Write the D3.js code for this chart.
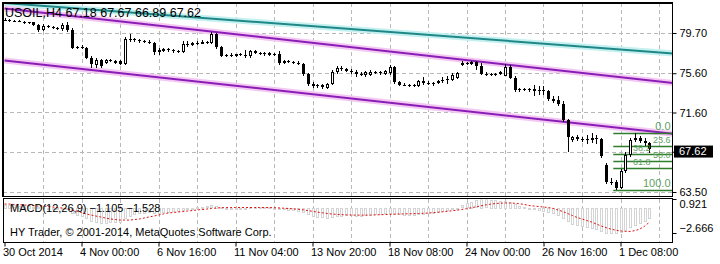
<!DOCTYPE html>
<meta charset="utf-8">
<style>
body { margin: 0; background: #fff; }
svg text { font-family: "Liberation Sans", Arial, sans-serif; }
.axis path.domain { display: none; }
.axis line { stroke: #000; }
.axis text { font-size: 11px; fill: #000; }
</style>
<svg id="chart" width="720" height="264"></svg>
<script src="https://d3js.org/d3.v7.min.js"></script>
<script>

// ---- data (H4 bars) ----
var symbol = "USOIL,H4";
var lastOHLC = [67.18, 67.67, 66.89, 67.62];
var lastPrice = 67.62;

// [open, high, low, close]
var candles = [
  [81.05,81.25,80.90,81.00],[81.00,81.10,80.85,80.92],[80.92,81.05,80.80,80.95],[80.95,81.02,80.78,80.85],
  [80.85,80.95,80.65,80.72],[80.72,80.85,80.60,80.78],[80.78,80.85,80.45,80.55],[80.50,80.62,79.85,80.05],
  [80.05,80.60,79.95,80.45],[80.45,80.55,80.20,80.30],[80.30,80.40,80.15,80.25],[80.25,80.35,80.05,80.12],
  [80.10,80.70,79.95,80.55],[80.55,80.85,79.80,80.05],[80.05,80.20,78.05,78.20],[78.20,78.40,78.05,78.30],
  [78.30,78.45,78.05,78.15],[78.15,78.25,77.10,77.20],[77.20,77.40,76.10,76.50],[76.45,77.15,76.15,76.95],
  [76.95,77.05,76.10,76.30],[76.60,77.10,76.55,76.95],[76.95,77.05,76.70,76.80],[76.60,76.95,76.50,76.85],
  [76.85,76.90,76.45,76.55],[76.55,79.30,76.45,79.10],[79.10,79.55,78.75,79.05],[79.05,79.20,78.80,78.95],
  [78.95,79.10,78.70,78.85],[78.85,79.00,78.65,78.80],[78.80,78.95,78.55,78.70],[78.70,78.80,77.50,77.75],
  [77.75,78.20,77.45,78.00],[77.90,78.15,77.75,78.05],[78.05,78.15,77.80,77.95],[77.95,78.10,77.70,77.85],
  [77.85,78.00,77.65,77.75],[77.75,78.85,77.65,78.60],[78.60,78.90,78.30,78.45],[78.45,78.75,78.40,78.70],
  [78.70,78.85,78.50,78.60],[78.60,78.95,78.55,78.80],[78.80,78.90,78.60,78.70],[78.70,79.85,78.60,79.60],
  [79.60,79.70,78.10,78.25],[78.25,78.35,77.25,77.40],[77.40,77.60,77.25,77.50],[77.50,77.65,77.30,77.40],
  [77.40,77.60,77.30,77.55],[77.55,77.70,77.35,77.45],[77.45,77.95,77.15,77.35],[77.35,78.00,77.20,77.85],
  [77.85,77.95,77.55,77.70],[77.70,77.80,77.45,77.55],[77.55,77.75,77.40,77.65],[77.65,77.75,77.35,77.50],
  [77.50,77.70,77.35,77.60],[77.60,77.90,76.45,76.65],[76.65,76.95,76.55,76.85],[76.85,76.95,76.65,76.75],
  [76.75,76.85,76.50,76.65],[76.65,76.80,76.40,76.50],[76.50,76.60,75.35,75.50],[75.50,75.65,74.35,74.55],
  [74.55,74.70,74.10,74.30],[74.30,74.55,74.10,74.45],[74.20,74.50,73.95,74.40],[74.10,74.65,73.95,74.55],
  [74.55,75.90,74.45,75.70],[75.70,76.30,75.50,76.15],[76.15,76.30,75.85,76.00],[76.00,76.15,75.70,75.85],
  [75.85,76.00,75.55,75.70],[75.70,75.90,75.25,75.50],[75.50,75.70,75.30,75.40],[75.40,75.85,75.20,75.70],
  [75.45,75.90,75.30,75.75],[75.75,75.85,75.50,75.60],[75.60,75.85,75.45,75.70],[75.55,75.95,75.45,75.85],
  [75.60,76.45,75.45,76.25],[76.25,76.35,74.50,74.70],[74.70,74.85,74.30,74.45],[74.45,74.60,74.25,74.35],
  [74.35,74.55,74.15,74.40],[74.40,74.55,74.20,74.30],[74.30,74.95,74.20,74.80],[74.80,75.25,74.40,74.60],
  [74.60,74.80,74.40,74.55],[74.55,74.75,74.35,74.65],[74.65,74.90,74.50,74.80],[74.80,75.25,74.60,74.90],
  [74.90,75.30,74.55,75.05],[74.95,75.60,74.80,75.45],[75.10,75.75,75.00,75.60],[76.45,76.80,76.35,76.60],
  [76.60,76.75,76.40,76.55],[76.55,76.85,76.45,76.70],[76.70,76.80,75.90,76.35],[76.35,76.65,75.40,75.55],
  [75.55,75.75,75.35,75.50],[75.50,75.65,75.35,75.45],[75.45,75.60,75.30,75.55],[75.55,75.80,75.40,75.70],
  [75.35,76.50,75.30,76.20],[76.20,76.40,75.00,75.15],[75.15,75.30,73.65,73.85],[73.85,74.10,73.70,73.95],
  [73.95,74.05,73.75,73.85],[73.85,74.10,73.70,74.00],[74.00,74.40,73.30,73.75],[73.75,74.35,73.40,73.90],
  [73.90,74.25,73.35,73.80],[73.80,73.90,72.80,73.00],[73.00,73.25,72.60,72.75],[72.90,73.30,72.30,72.50],
  [72.50,72.75,70.60,70.80],[70.80,70.95,67.55,69.10],[68.80,69.25,68.60,69.15],[69.15,69.30,68.70,68.85],
  [68.85,69.10,68.55,68.95],[68.95,69.35,68.35,68.80],[68.80,69.50,68.50,69.00],[69.00,69.30,68.40,68.90],
  [68.85,69.05,67.00,67.20],[66.20,66.50,64.35,64.55],[64.55,64.90,64.20,64.40],[64.50,64.75,63.72,63.95],
  [63.95,65.85,63.80,65.60],[65.60,67.60,65.40,67.30],[67.30,69.00,67.10,68.75],[68.75,69.55,68.55,69.05],
  [69.05,69.20,68.50,68.70],[68.70,69.00,68.20,68.45],[68.45,68.60,67.50,67.85]
];

var macdParams = [12, 26, 9];
var macdMain = [
  0.3,0.28,0.25,0.22,0.2,0.18,0.12,0.05,0.05,0.0,-0.05,-0.1,-0.1,
  -0.15,-0.5,-0.7,-0.85,-1.1,-1.4,-1.5,-1.55,-1.55,-1.5,-1.48,-1.45,
  -1.05,-0.8,-0.65,-0.55,-0.5,-0.45,-0.5,-0.5,
  -0.45,-0.4,-0.35,-0.3,-0.2,-0.1,-0.02,0.05,0.1,0.15,0.25,0.18,
  0.05,0.0,-0.02,-0.02,-0.03,-0.02,0.05,0.08,0.07,0.05,0.03,0.02,-0.1,-0.15,-0.2,-0.25,-0.3,
  -0.45,-0.65,-0.85,-0.95,-1.0,-1.02,-0.95,-0.85,-0.8,-0.78,-0.78,-0.8,
  -0.82,-0.78,-0.72,-0.68,-0.62,-0.58,-0.5,-0.6,-0.68,-0.72,-0.75,-0.72,-0.68,-0.62,-0.55,-0.48,-0.4,-0.32,-0.22,-0.12,-0.02,
  0.25,0.45,0.62,0.78,0.921,0.88,0.85,0.8,0.72,0.7,0.62,0.38,0.18,0.05,
  -0.05,-0.12,-0.2,-0.28,-0.42,-0.58,-0.75,-1.05,-1.4,-1.65,-1.8,-1.9,-2.0,-2.08,-2.25,-2.45,-2.6,-2.666,-2.65,-2.5,-2.3,-2.05,-1.8,-1.55,-1.35,-1.105
];
var macdSignal = [
  0.39,0.39,0.34,0.34,0.28,0.28,0.23,0.18,0.18,
  0.13,0.07,0.02,-0.03,-0.14,-0.24,-0.35,-0.51,-0.66,
  -0.77,-0.88,-0.98,-1.09,-1.19,-1.24,-1.30,
  -1.30,-1.30,-1.24,-1.19,-1.09,-0.98,-0.88,-0.77,
  -0.66,-0.56,-0.51,-0.45,-0.40,-0.35,-0.30,-0.24,-0.19,-0.14,-0.08,-0.03,
  0.0,0.01,0.02,0.02,0.02,0.02,0.02,0.02,0.02,0.02,0.01,0.0,-0.02,-0.05,-0.08,-0.12,-0.16,
  -0.22,-0.3,-0.38,-0.46,-0.53,-0.6,-0.66,-0.7,-0.73,-0.75,-0.77,-0.78,
  -0.78,-0.78,-0.77,-0.76,-0.74,-0.72,-0.7,-0.68,-0.66,-0.65,-0.64,-0.63,-0.61,-0.59,-0.56,-0.52,-0.48,-0.43,-0.38,-0.32,-0.26,
  -0.18,-0.1,0.0,0.1,0.2,0.3,0.38,0.44,0.48,0.5,0.5,0.47,0.42,0.35,
  0.23,0.18,0.13,0.07,0.02,-0.08,-0.24,-0.40,-0.61,-0.82,-1.03,-1.19,-1.35,-1.51,-1.72,-1.93,-2.1,-2.25,-2.37,-2.45,-2.5,-2.5,-2.42,-2.25,-1.95,-1.528
];

var priceTicks = [79.70, 75.60, 71.60, 67.60, 63.50];
var macdTicks = [0.921, -2.666];
var timeLabels = ["30 Oct 2014", "4 Nov 00:00", "6 Nov 16:00", "11 Nov 04:00", "13 Nov 20:00",
                  "18 Nov 08:00", "24 Nov 00:00", "26 Nov 16:00", "1 Dec 08:00"];
var labelBars = timeLabels.map(function(d, i) { return i * 16; });
var gridBars = d3.range(8, 139, 8);

// trend lines: [bar, price] end points
var teal = [[0, 82.76], [139, 77.62]];
var upperChannel = [[0, 82.20], [139, 74.59]];
var lowerChannel = [[0, 76.90], [139, 69.43]];

// fibo retracement
var fibHigh = 69.55, fibLow = 63.72, fibStartBar = 126.5;
var fibLevels = [0, 23.6, 38.2, 50, 61.8, 100];

var copyright = "HY Trader, \u00a9 2001-2014, MetaQuotes Software Corp.";

// ---- layout ----
var svg = d3.select("#chart");
var main = { left: 3, right: 672.5, top: 3, bottom: 196.5 };
var sub = { top: 198.5, bottom: 242.5 };

var x = d3.scaleLinear().domain([0, 139]).range([4.5, 4.5 + 139 * 4.8125]);
var y = d3.scaleLinear().domain([62.99, 82.757]).range([197, 3]);
var ym = d3.scaleLinear().domain([-2.666, 0.921]).range([233, 199]);

svg.append("rect").attr("width", 720).attr("height", 264).attr("fill", "#fff");

svg.append("clipPath").attr("id", "clipMain")
  .append("rect").attr("x", main.left + 1).attr("y", main.top + 1)
  .attr("width", main.right - main.left - 1).attr("height", main.bottom - main.top - 1);
svg.append("clipPath").attr("id", "clipSub")
  .append("rect").attr("x", main.left + 1).attr("y", sub.top + 1)
  .attr("width", main.right - main.left - 1).attr("height", sub.bottom - sub.top - 1);

// grid
var grid = svg.append("g")
  .attr("stroke", "#b8b8b8").attr("stroke-dasharray", "4,3").attr("shape-rendering", "crispEdges");
grid.selectAll("line.v").data(gridBars).join("line")
  .attr("class", "v")
  .attr("x1", function(d) { return Math.round(x(d)) + 0.5; })
  .attr("x2", function(d) { return Math.round(x(d)) + 0.5; })
  .attr("y1", main.top).attr("y2", main.bottom);
grid.selectAll("line.vs").data(gridBars).join("line")
  .attr("class", "vs")
  .attr("x1", function(d) { return Math.round(x(d)) + 0.5; })
  .attr("x2", function(d) { return Math.round(x(d)) + 0.5; })
  .attr("y1", sub.top).attr("y2", sub.bottom);
grid.selectAll("line.h").data(priceTicks).join("line")
  .attr("class", "h")
  .attr("x1", main.left).attr("x2", main.right)
  .attr("y1", function(d) { return Math.round(y(d)) + 0.5; })
  .attr("y2", function(d) { return Math.round(y(d)) + 0.5; });

// trend lines
var plot = svg.append("g").attr("clip-path", "url(#clipMain)");
var tl = d3.line().x(function(d) { return x(d[0]); }).y(function(d) { return y(d[1]); });

[[teal, "#c4f0f0", "#1f8787"], [upperChannel, "#f3c8f3", "#8a1db5"], [lowerChannel, "#f3c8f3", "#8a1db5"]]
  .forEach(function(t) {
    plot.append("path").attr("d", tl(t[0])).attr("fill", "none")
      .attr("stroke", t[1]).attr("stroke-width", 6);
  });
[[teal, "#1f8787"], [upperChannel, "#8a1db5"], [lowerChannel, "#8a1db5"]]
  .forEach(function(t) {
    plot.append("path").attr("d", tl(t[0])).attr("fill", "none")
      .attr("stroke", t[1]).attr("stroke-width", 2);
  });

// fibo
function fibPrice(l) { return fibHigh - (fibHigh - fibLow) * l / 100; }
plot.selectAll("line.fib").data(fibLevels).join("line")
  .attr("class", "fib")
  .attr("x1", x(fibStartBar)).attr("x2", main.right)
  .attr("y1", function(d) { return Math.round(y(fibPrice(d))) + 0.5; })
  .attr("y2", function(d) { return Math.round(y(fibPrice(d))) + 0.5; })
  .attr("stroke", "#2f7f2f").attr("stroke-width", 1.5);

// candles
var cg = plot.append("g").attr("shape-rendering", "crispEdges");
cg.selectAll("line.wick").data(candles).join("line")
  .attr("class", "wick")
  .attr("x1", function(d, i) { return Math.round(x(i)) + 0.5; })
  .attr("x2", function(d, i) { return Math.round(x(i)) + 0.5; })
  .attr("y1", function(d) { return y(d[1]); })
  .attr("y2", function(d) { return y(d[2]); })
  .attr("stroke", "#000");
cg.selectAll("rect.body").data(candles).join("rect")
  .attr("class", "body")
  .each(function(d, i) {
    var cx = Math.round(x(i)) + 0.5;
    var top = Math.round(y(Math.max(d[0], d[3])));
    var bot = Math.round(y(Math.min(d[0], d[3])));
    var r = d3.select(this);
    if (d[3] > d[0] && bot - top >= 2) {
      r.attr("x", cx - 1).attr("width", 2).attr("y", top + 0.5).attr("height", bot - top - 1)
        .attr("fill", "#fff").attr("stroke", "#000");
    } else {
      r.attr("x", cx - 1.5).attr("width", 3).attr("y", top).attr("height", Math.max(1, bot - top))
        .attr("fill", "#000");
    }
  });

// fibo labels; the middle ones sit close, so alternate them sideways
plot.selectAll("text.fib").data(fibLevels).join("text")
  .attr("class", "fib")
  .attr("x", function(d, i) { return main.right - 2 - (i === 2 || i === 4 ? 20 : 0); })
  .attr("y", function(d) { return y(fibPrice(d)) - 3; })
  .attr("text-anchor", "end")
  .attr("font-size", function(d) { return d === 0 || d === 100 ? "11px" : "9px"; })
  .attr("fill", "#5f9f5f")
  .text(function(d) { return d3.format(".1f")(d); });

// title
svg.append("text").attr("x", 5).attr("y", 17).attr("font-size", "12.5px").attr("fill", "#000")
  .text(symbol + " " + lastOHLC.map(d3.format(".2f")).join(" "));

// MACD subwindow
var mg = svg.append("g").attr("clip-path", "url(#clipSub)");
mg.append("g").attr("shape-rendering", "crispEdges")
  .selectAll("rect").data(macdMain).join("rect")
  .attr("x", function(d, i) { return Math.round(x(i)) - 0.5; })
  .attr("width", 2)
  .attr("y", function(d) { return Math.round(Math.min(ym(0), ym(d))) + 0.5; })
  .attr("height", function(d) { return Math.max(1, Math.round(Math.abs(ym(d) - ym(0)))); })
  .attr("fill", "#fff").attr("stroke", "#d4d4d4");
mg.append("path")
  .attr("d", d3.line().x(function(d, i) { return x(i); }).y(function(d) { return ym(d); })(macdSignal))
  .attr("fill", "none").attr("stroke", "#dd1111").attr("stroke-width", 1).attr("stroke-dasharray", "2,2");

var f3 = d3.format(".3f");
svg.append("text").attr("x", 10).attr("y", 212).attr("font-size", "11px").attr("fill", "#000")
  .text("MACD(" + macdParams.join(",") + ") " + f3(macdMain[macdMain.length - 1]) + " " +
        f3(macdSignal[macdSignal.length - 1]));
svg.append("text").attr("x", 10).attr("y", 236).attr("font-size", "11px").attr("fill", "#000")
  .text(copyright);

// frames
var frame = svg.append("g").attr("fill", "none").attr("stroke", "#000").attr("shape-rendering", "crispEdges");
frame.append("rect").attr("x", main.left).attr("y", main.top)
  .attr("width", main.right - main.left).attr("height", main.bottom - main.top);
frame.append("line").attr("x1", 2.5).attr("x2", 2.5).attr("y1", 2).attr("y2", main.bottom);
frame.append("line").attr("x1", 2).attr("x2", main.right).attr("y1", 2.5).attr("y2", 2.5);
frame.append("rect").attr("x", main.left).attr("y", sub.top)
  .attr("width", main.right - main.left).attr("height", sub.bottom - sub.top);

// price axis
svg.append("g").attr("class", "axis").attr("transform", "translate(" + main.right + ",0)")
  .call(d3.axisRight(y).tickValues(priceTicks).tickFormat(d3.format(".2f")).tickSize(4).tickPadding(3));

// current price box
var pb = svg.append("g").attr("transform", "translate(0," + y(lastPrice) + ")");
pb.append("rect").attr("x", 674).attr("y", -6).attr("width", 39).attr("height", 12).attr("fill", "#000");
pb.append("text").attr("x", 679).attr("dy", "0.35em").attr("font-size", "11px").attr("fill", "#fff")
  .text(d3.format(".2f")(lastPrice));

// MACD axis
var ma = svg.append("g").attr("class", "axis").attr("transform", "translate(" + main.right + ",0)")
  .call(d3.axisRight(ym).tickValues(macdTicks).tickFormat(f3).tickSize(4).tickPadding(3));
ma.selectAll(".tick").filter(function(d) { return d > 0; }).select("text").attr("dy", "0.8em");
ma.selectAll(".tick").filter(function(d) { return d < 0; }).select("text").attr("dy", "-0.1em");

// time axis
var ta = svg.append("g").attr("class", "axis").attr("transform", "translate(0," + sub.bottom + ")")
  .call(d3.axisBottom(x).tickValues(labelBars)
    .tickFormat(function(d, i) { return timeLabels[i]; }).tickSize(4).tickPadding(2));
ta.selectAll("text").attr("text-anchor", "start").attr("x", -2);

</script>
